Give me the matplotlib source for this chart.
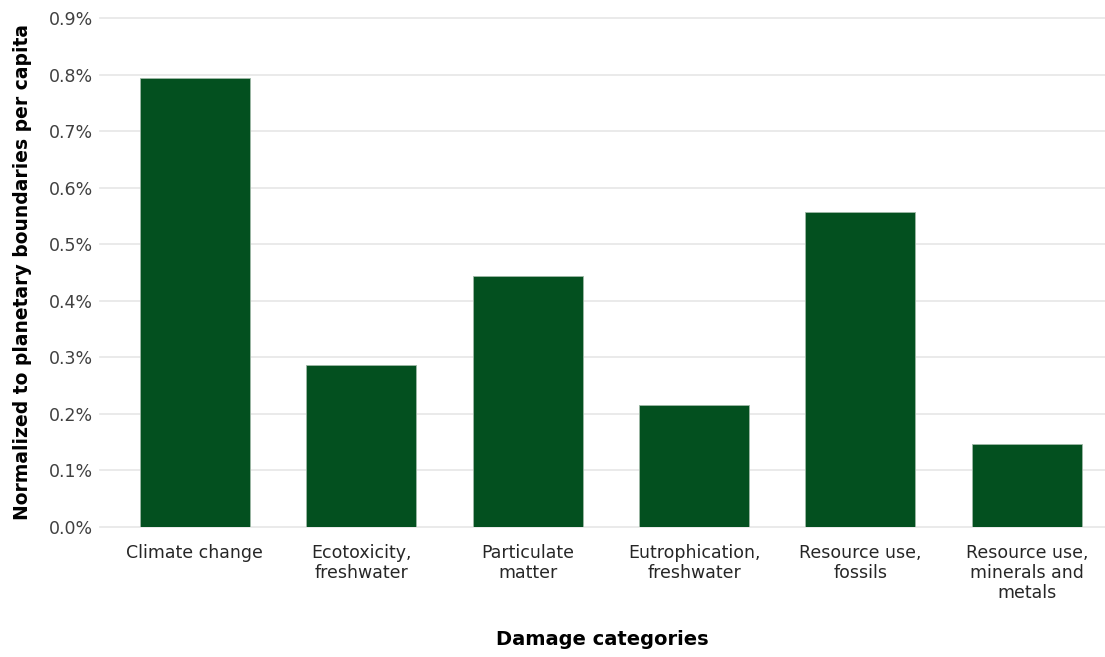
import matplotlib
matplotlib.use("Agg")
import matplotlib.pyplot as plt
from matplotlib.ticker import FuncFormatter

# values (percent)
categories = ["Climate change", "Ecotoxicity,\nfreshwater", "Particulate\nmatter",
              "Eutrophication,\nfreshwater", "Resource use,\nfossils",
              "Resource use,\nminerals and\nmetals"]
values = [0.794, 0.287, 0.444, 0.216, 0.557, 0.147]
yticks = [0.0, 0.1, 0.2, 0.3, 0.4, 0.5, 0.6, 0.7, 0.8, 0.9]

plt.rcParams['font.family'] = ['DejaVu Sans']

fig = plt.figure(figsize=(11.05, 6.57), dpi=100)
ax = fig.add_axes([100 / 1105, 1 - 527 / 657, 1 - 100 / 1105, (527 - 18) / 657])

x = list(range(len(categories)))
ax.bar(x, values, width=0.66, color="#03501f", edgecolor="#9fb8a6", linewidth=0.6, zorder=3)

ax.set_ylim(0, 0.9)
ax.set_xlim(-0.57, 5.47)
ax.set_yticks(yticks)
ax.yaxis.set_major_formatter(FuncFormatter(lambda v, p: f"{v:.1f}%"))
ax.set_xticks(x)
ax.set_xticklabels(categories, fontsize=12.5, color="#262626", linespacing=1.15)
ax.tick_params(axis='y', labelsize=12.5, labelcolor="#404040", length=0, pad=5)
ax.tick_params(axis='x', length=0, pad=12)

ax.grid(axis='y', color="#e6e6e6", linewidth=1.2, zorder=0)
# keep the gridlines at 0% and 0.9% from being cut in half
for gl in ax.get_ygridlines():
    gl.set_clip_on(False)
for s in ax.spines.values():
    s.set_visible(False)

ax.set_ylabel("Normalized to planetary boundaries per capita", fontsize=13.5,
              fontweight='bold', color="black", labelpad=12)
ax.set_xlabel("Damage categories", fontsize=14, fontweight='bold', color="black", labelpad=20)

fig.savefig("out.png", dpi=100)
